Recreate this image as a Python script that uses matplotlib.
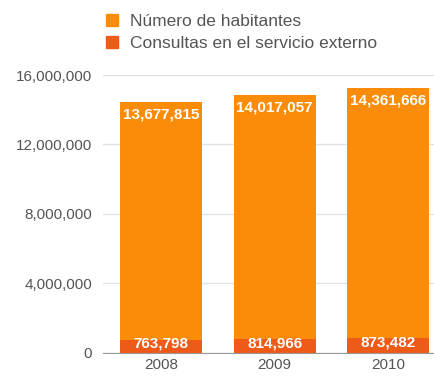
import numpy as np
import matplotlib.pyplot as plt
from matplotlib.patches import Patch
from matplotlib.ticker import FuncFormatter

years = ['2008', '2009', '2010']
consultas = [763798, 814966, 873482]
habitantes = [13677815, 14017057, 14361666]

col_hab = '#fb8c0a'
col_con = '#ee5a17'
grey = '#555555'

plt.rcParams['font.family'] = ['Liberation Sans', 'DejaVu Sans']

fig = plt.figure(figsize=(4.35, 3.77), dpi=100)
ax = fig.add_axes([0.237, 0.064, 0.763, 0.737])

x = np.arange(len(years))
w = 0.72
ax.bar(x, consultas, w, color=col_con, zorder=3)
ax.bar(x, habitantes, w, bottom=consultas, color=col_hab, zorder=3)

for xi, c, h in zip(x, consultas, habitantes):
    ax.annotate(f'{h:,}', (xi, c + h), xytext=(0, -4), textcoords='offset points',
                ha='center', va='top', color='white', fontsize=11, fontweight='bold', zorder=4)
    ax.annotate(f'{c:,}', (xi, c / 2), xytext=(0, 2), textcoords='offset points',
                ha='center', va='center', color='white', fontsize=11, fontweight='bold', zorder=4)

ax.set_xlim(-0.51, 2.41)
ax.set_ylim(0, 16000000)
ax.set_yticks([0, 4000000, 8000000, 12000000, 16000000])
ax.yaxis.set_major_formatter(FuncFormatter(lambda v, p: f'{int(v):,}'))
ax.set_xticks(x)
ax.set_xticklabels(years)
ax.tick_params(length=0, colors=grey, labelsize=11)
ax.tick_params(axis='y', pad=8)
ax.tick_params(axis='x', pad=4)
ax.grid(axis='y', color='#e2e2e2', lw=1, zorder=0)
for s in ['top', 'right', 'left']:
    ax.spines[s].set_visible(False)
ax.spines['bottom'].set_color('#999999')
ax.spines['bottom'].set_zorder(5)

handles = [Patch(color=col_hab, label='Número de habitantes'),
           Patch(color=col_con, label='Consultas en el servicio externo')]
fig.legend(handles=handles, loc='upper left', bbox_to_anchor=(0.212, 1.0), frameon=False,
           fontsize=12.5, labelcolor=grey, handlelength=0.7, handleheight=0.7,
           handletextpad=0.7, labelspacing=0.38, borderpad=0.3)

fig.savefig('out.png', dpi=100)
